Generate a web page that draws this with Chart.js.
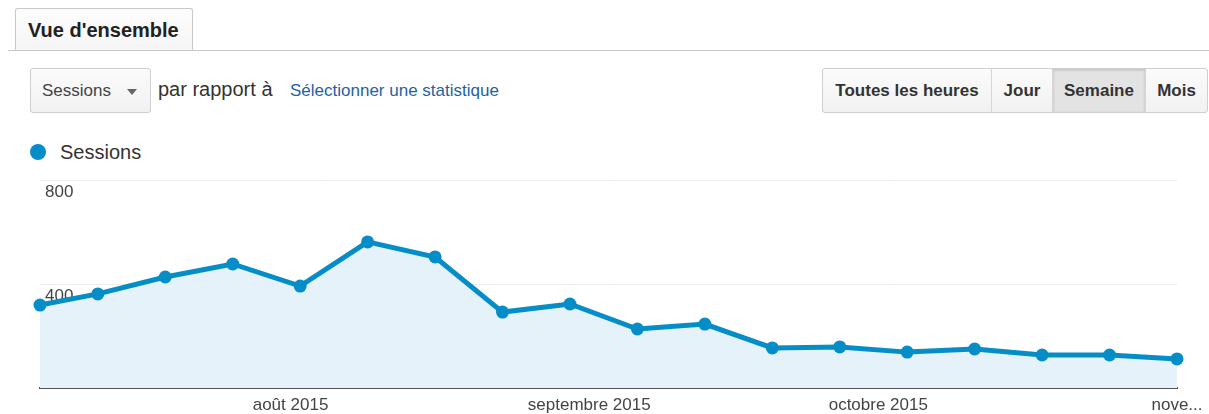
<!DOCTYPE html>
<html lang="fr">
<head>
<meta charset="utf-8">
<title>Vue d'ensemble</title>
<script src="https://cdn.jsdelivr.net/npm/chart.js@4.4.1/dist/chart.umd.min.js"></script>
<style>
  html, body { margin: 0; padding: 0; background: #fff; }
  body { width: 1209px; height: 414px; position: relative; overflow: hidden;
         font-family: "Liberation Sans", Arial, sans-serif; color: #333; }
  .tabline { position: absolute; left: 8px; right: 0; top: 50px; border-top: 1px solid #c9c9c9; }
  .tab { position: absolute; left: 15px; top: 8px; width: 178px; height: 42px;
         border: 1px solid #c9c9c9; border-bottom: none; border-radius: 3px 3px 0 0;
         background: linear-gradient(#fdfdfd, #f5f5f5); box-sizing: border-box;
         font-weight: bold; font-size: 20px; color: #222; line-height: 42px; padding-left: 12px; }
  .btn { position: absolute; top: 68px; height: 45px; box-sizing: border-box;
         border: 1px solid #cfcfcf; background: linear-gradient(#fbfbfb, #f1f1f1); }
  .dropdown { left: 30px; width: 121px; border-radius: 3px; font-size: 17px; color: #444;
              line-height: 43px; padding-left: 11px; }
  .dropdown .arr { position: absolute; left: 96px; top: 20px; width: 0; height: 0;
                   border-left: 5px solid transparent; border-right: 5px solid transparent;
                   border-top: 6px solid #666; }
  .compare { position: absolute; left: 158px; top: 78px; font-size: 20px; color: #333; }
  .pick { position: absolute; left: 290px; top: 81px; font-size: 17px; color: #1f5fa6; }
  .group { position: absolute; left: 822px; top: 68px; height: 45px; width: 386px;
           border: 1px solid #cfcfcf; border-radius: 3px; box-sizing: border-box; display: flex;
           overflow: hidden; background: linear-gradient(#fbfbfb, #f1f1f1); }
  .group div { font-weight: bold; font-size: 17px; color: #333; line-height: 43px; text-align: center;
               border-right: 1px solid #d6d6d6; box-sizing: border-box; white-space: nowrap; }
  .group div:last-child { border-right: none; }
  .group .on { background: #e3e3e3; box-shadow: inset 0 1px 3px rgba(0,0,0,0.18); }
  .legend { position: absolute; left: 30px; top: 141px; font-size: 20px; color: #333; }
  .legend .dot { position: absolute; left: 0; top: 3px; width: 16px; height: 16px; border-radius: 50%;
                 background: #058dc7; }
  .legend span { position: absolute; left: 30px; top: 0; white-space: nowrap; }
  #wrap { position: absolute; left: 0; top: 168px; width: 1209px; height: 246px; }
</style>
</head>
<body>
<div class="tabline"></div>
<div class="tab">Vue d'ensemble</div>
<div class="btn dropdown">Sessions<div class="arr"></div></div>
<div class="compare">par rapport à</div>
<div class="pick">Sélectionner une statistique</div>
<div class="group">
  <div style="width:169px">Toutes les heures</div>
  <div style="width:61px">Jour</div>
  <div class="on" style="width:93px">Semaine</div>
  <div style="width:61px">Mois</div>
</div>
<div class="legend"><div class="dot"></div><span>Sessions</span></div>
<div id="wrap"><canvas id="chart"></canvas></div>
<script>
// weekly sessions; day offsets from 6 July 2015 (first point is a partial week)
const weekDays = [0, 6, 13, 20, 27, 34, 41, 48, 55, 62, 69, 76, 83, 90, 97, 104, 111, 118];
const sessions = [319, 362, 427, 477, 392, 562, 504, 292, 323, 227, 246, 154, 158, 138, 150, 127, 127, 112];

// month boundaries on the x axis (day offsets) and their labels
const monthDays   = [26, 57, 87, 118];
const monthLabels = ['août 2015', 'septembre 2015', 'octobre 2015', 'nove...'];

const yTicks = [0, 400, 800];

const blue = '#058dc7';

new Chart(document.getElementById('chart'), {
  type: 'line',
  data: {
    datasets: [{
      label: 'Sessions',
      data: weekDays.map((d, i) => ({ x: d, y: sessions[i] })),
      borderColor: blue,
      borderWidth: 5,
      backgroundColor: '#e5f2f9',
      fill: 'origin',
      pointRadius: 6.5,
      pointBackgroundColor: blue,
      pointBorderColor: blue,
      pointBorderWidth: 0,
      tension: 0,
      clip: false,
    }],
  },
  options: {
    responsive: true,
    maintainAspectRatio: false,
    animation: false,
    layout: { padding: { left: 40, right: 32, top: 12, bottom: 0 } },
    plugins: { legend: { display: false }, tooltip: { enabled: false } },
    scales: {
      x: {
        type: 'linear',
        min: 0,
        max: 118,
        grid: { display: false, drawTicks: false },
        border: { display: true, color: '#555', width: 2 },
        afterBuildTicks: (s) => { s.ticks = monthDays.map(v => ({ value: v })); },
        afterFit: (s) => { s.height = 26; s.paddingLeft = 0; s.paddingRight = 0; },
        ticks: {
          autoSkip: false,
          maxRotation: 0,
          padding: 7,
          color: '#444',
          font: { family: 'Liberation Sans', size: 17 },
          callback: (v) => monthLabels[monthDays.indexOf(v)],
        },
      },
      y: {
        min: 0,
        max: 800,
        afterBuildTicks: (s) => { s.ticks = yTicks.map(v => ({ value: v })); },
        afterFit: (s) => { s.width = 0; s.paddingTop = 0; s.paddingBottom = 0; },
        grid: { color: '#ececec', lineWidth: 1, drawTicks: false },
        border: { display: false },
        ticks: {
          mirror: true,
          padding: 5,
          labelOffset: 12,
          color: '#444',
          font: { family: 'Liberation Sans', size: 17 },
          callback: (v) => (v === 0 ? '' : v),
        },
      },
    },
  },
});
</script>
</body>
</html>
